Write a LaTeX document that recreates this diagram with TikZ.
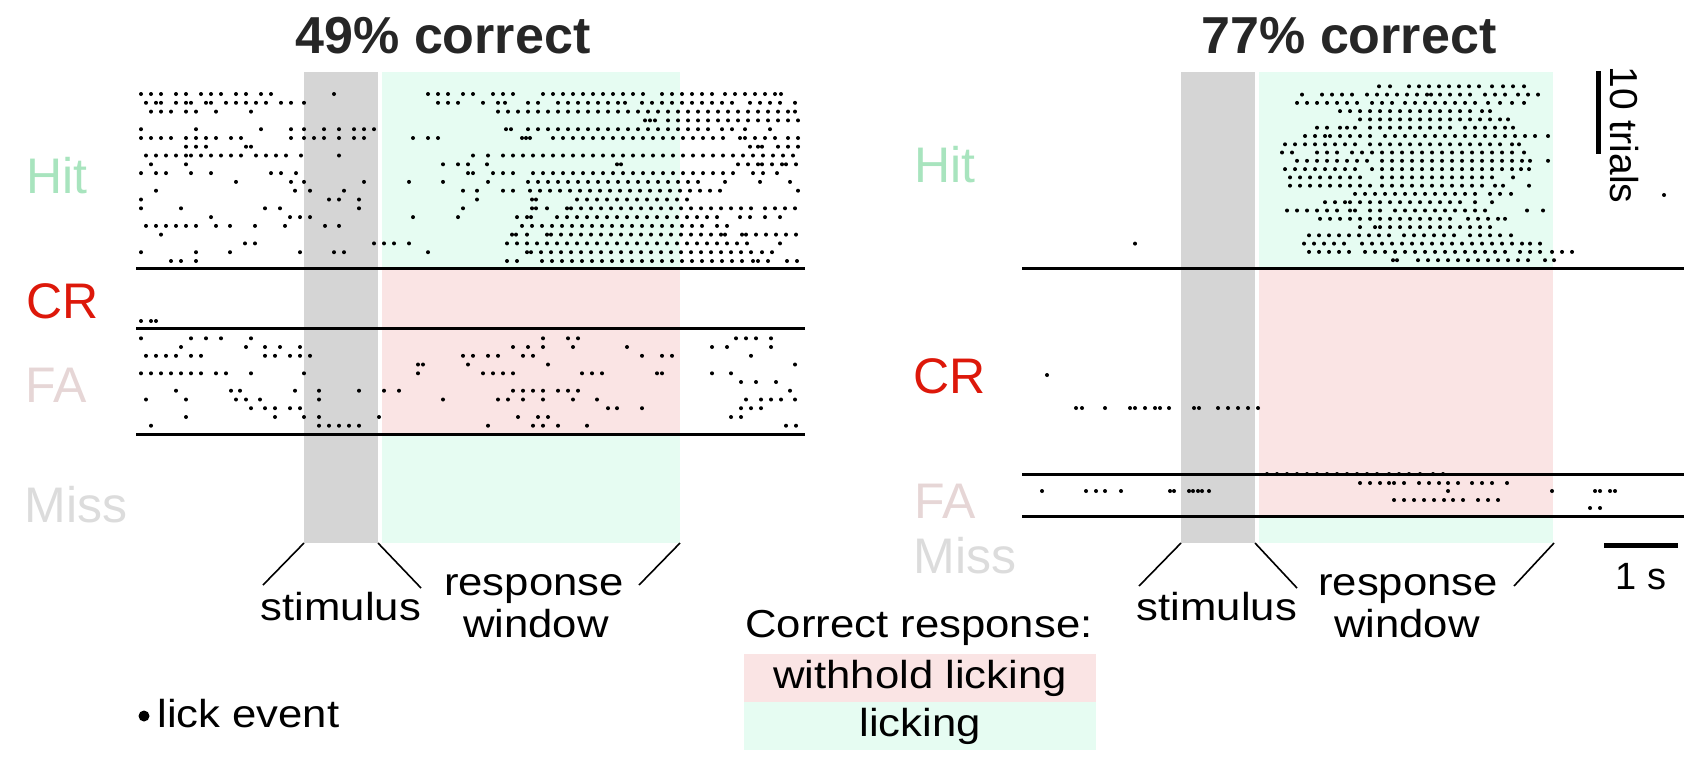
\documentclass[tikz,border=0pt]{standalone}
\usepackage{fontspec}
\setmainfont{Liberation Sans}
\newfontfamily\annfont{Liberation Sans}[FakeStretch=1.12]
\definecolor{stimgray}{RGB}{213,213,213}
\definecolor{lickgreen}{RGB}{230,252,242}
\definecolor{holdpink}{RGB}{250,228,228}
\definecolor{hitcol}{RGB}{168,228,190}
\definecolor{crcol}{RGB}{221,24,10}
\definecolor{facol}{RGB}{230,214,214}
\definecolor{misscol}{RGB}{220,220,220}
\newcommand\lickrow[2]{\foreach \x in {#2} \fill (\x,#1) circle[radius=1pt];}

\begin{document}
\begin{tikzpicture}[x=0.5pt,y=-0.5pt,font=\annfont\fontsize{19.5}{22}\selectfont]
% Styles for lines and texts
\tikzstyle{trial line}=[line width=1.5pt];
\tikzstyle{pointer}=[line width=0.8pt];
\tikzstyle{scale bar}=[line width=2.5pt];
\tikzstyle{caption}=[anchor=base,inner sep=0];
\tikzstyle{outcome}=[anchor=base west,inner sep=0,font=\rmfamily\fontsize{25}{30}\selectfont];
\tikzstyle{title}=[anchor=base,inner sep=0,text=black!85,font=\rmfamily\bfseries\fontsize{26}{30}\selectfont];
\useasboundingbox (0,0) rectangle (1684,778);
% Stimulus and response windows
\fill[stimgray] (304,72) rectangle (378,543);
\fill[lickgreen] (382,72) rectangle (680,543);
\fill[holdpink] (382,268.5) rectangle (680,434.5);
\fill[stimgray] (1181,72) rectangle (1255,543);
\fill[lickgreen] (1259,72) rectangle (1553,543);
\fill[holdpink] (1259,268.5) rectangle (1553,516);
% Titles
\node[title] (titleA) at (443,53) {49\% correct};
\node[title] (titleB) at (1349,53) {77\% correct};
% Trial outcomes
\node[outcome,text=hitcol] (hitA) at (26,193) {Hit};
\node[outcome,text=crcol] (crA) at (26,318) {CR};
\node[outcome,text=facol] (faA) at (25,402) {FA};
\node[outcome,text=misscol] (missA) at (24,522) {Miss};
\node[outcome,text=hitcol] (hitB) at (914,182) {Hit};
\node[outcome,text=crcol] (crB) at (913,393) {CR};
\node[outcome,text=facol] (faB) at (914,518) {FA};
\node[outcome,text=misscol] (missB) at (913,573) {Miss};
% Licks, left session: hit trials
\lickrow{94.0}{141,151,161,176,186,201,211,221,236,246,261,271,334,428,438,448,463,473,493,503,513,543,553,563,573,...,643,662,672,...,712,725,735,...,775,781}
\lickrow{102.8}{146,156,161,176,186,191,206,211,226,236,246,256,266,281,291,304,438,448,458,483,498,505,528,538,558,568,578,...,618,625,642,652,662,...,732,750,760,770,780,795}
\lickrow{111.6}{151,161,171,186,196,216,251,498,508,...,788,795}
\lickrow{120.4}{645,650,655,668,678,...,798}
\lickrow{129.2}{141,196,261,291,304,324,339,354,364,374,506,511,528,538,...,708,722,732,745,770}
\lickrow{138.0}{141,151,161,171,186,196,206,216,231,241,291,304,314,324,339,354,364,413,428,438,522,526,530,553,563,...,723,740,745,755,765,775,788,798}
\lickrow{146.7}{186,196,206,246,251,750,758,762,778,788,798}
\lickrow{155.5}{146,156,166,176,186,191,201,211,221,231,241,256,266,276,286,301,339,473,488,503,513,523,...,798}
\lickrow{164.3}{151,186,443,458,468,487,617,621,738,748,758,762,772,782,786,796}
\lickrow{173.1}{141,156,166,191,211,271,281,296,468,473,493,503,513,533,543,...,733,753,763,777}
\lickrow{181.9}{236,291,304,364,409,443,488,528,538,...,703,725,760,790}
\lickrow{190.7}{156,295,310,344,463,477,503,513,530,540,...,710,720,798}
\lickrow{199.5}{141,329,339,359,477,532,536,577,587,...,692}
\lickrow{208.3}{141,181,265,280,359,463,532,536,547,567,571,581,...,751,765,775,785,795}
\lickrow{217.1}{211,290,300,310,413,458,517,527,531,557,567,577,...,717,740,750,765,780}
\lickrow{225.9}{146,156,166,176,186,196,216,230,255,285,325,339,522,532,...,702,717,727}
\lickrow{234.6}{161,512,516,527,547,551,561,571,...,721,725,742,746,756,...,796}
\lickrow{243.4}{245,255,374,384,394,409,507,517,...,747,780}
\lickrow{252.2}{141,196,230,300,334,344,428,527,531,541,...,751,762,772}
\lickrow{261.0}{171,181,196,507,517,542,552,...,742,753,758,768,787,797}
% Licks, left session: correct rejections and false alarms
\lickrow{321}{141,151,156}
\lickrow{338.3}{141,191,206,221,251,543,568,578,736,746,756,771}
\lickrow{347.0}{181,246,265,280,300,513,528,543,573,627,712,727,771}
\lickrow{355.8}{146,156,166,176,191,201,265,275,290,300,310,463,473,488,498,523,533,642,662,672,751}
\lickrow{364.5}{418,423,468,548,795}
\lickrow{373.3}{141,151,161,171,181,191,201,216,226,251,304,418,483,493,503,513,582,592,602,657,662,712,731}
\lickrow{382.0}{741,756,776}
\lickrow{390.7}{176,231,240,295,319,359,384,399,513,523,533,543,558,568,578,790}
\lickrow{399.5}{146,186,236,246,260,319,443,498,508,523,543,573,597,746,761,771,781,795}
\lickrow{408.2}{251,265,275,290,300,608,617,642,741,751,761}
\lickrow{417.0}{186,275,304,319,379,518,538,548,731,741}
\lickrow{425.7}{151,319,329,339,349,359,488,533,543,558,587,786,796}
% Licks, right session: hit trials
\lickrow{86.3}{1379,1390,1409,1419,...,1479,1492,1503,1513,1524}
\lickrow{94.6}{1302,1322,1332,1342,1352,1367,1377,...,1427,1431,1440,1450,...,1470,1485,1495,1505,1518,1528,1538}
\lickrow{102.9}{1297,1307,...,1357,1372,1382,1392,1405,1415,...,1475,1488,1500,1512,1524}
\lickrow{111.1}{1340,1350,...,1470,1482,1490}
\lickrow{119.4}{1360,1370,...,1480,1490,1500,1508}
\lickrow{127.7}{1317,1327,1340,1347,1355,1370,1380,...,1450,1465,1475,1485,1495,1505,1513}
\lickrow{136.0}{1305,1315,1325,1330,1340,1350,1360,1370,1385,1395,...,1525,1535,1548}
\lickrow{144.3}{1285,1295,...,1355,1370,1380,...,1500,1512,1519}
\lickrow{152.5}{1282,1292,1317,1327,1337,1352,1362,...,1512,1524}
\lickrow{160.8}{1297,1307,...,1367,1382,1392,...,1522,1530,1548}
\lickrow{169.1}{1285,1295,...,1355,1372,1382,...,1512,1521,1529}
\lickrow{177.4}{1290,1300,...,1360,1382,1392,...,1492,1513}
\lickrow{185.7}{1290,1300,...,1370,1382,1392,...,1482,1495,1503,1529}
\lickrow{193.9}{1355,1365,...,1475,1490,1500,1511}
\lickrow{202.2}{1325,1335,1345,1350,1360,1370,...,1460,1475,1492}
\lickrow{210.5}{1287,1297,...,1337,1350,1355,1370,1380,1395,1405,...,1485,1527,1543}
\lickrow{218.8}{1320,1330,...,1450,1468,1478,1488,1498,1505}
\lickrow{227.1}{1360,1375,1380,1390,...,1490}
\lickrow{235.3}{1309,1319,...,1389,1404,1414,...,1454,1470,1480,1490,1500,1511}
\lickrow{243.6}{1135,1304,1314,...,1344,1362,1372,...,1522,1530,1540}
\lickrow{251.9}{1309,1319,...,1349,1365,1375,...,1505,1520,1530,1540,1552,1562,1572}
\lickrow{260.2}{1393,1397,1418,1428,...,1528,1545,1554}
\lickrow{195}{1664}
% Licks, right session: correct rejections and false alarms
\lickrow{375}{1047}
\lickrow{408}{1076,1082,1105,1130,1135,1145,1155,1160,1169,1194,1199,1218,1228,1238,1248,1258}
\lickrow{474}{1267,1277,...,1377,1389,1399,1409,1420,1433,1443}
\lickrow{483}{1360,1370,1380,1389,1394,1404,1419,1429,1439,1448,1458,1472,1482,1492,1507}
\lickrow{491}{1042,1086,1096,1105,1121,1170,1174,1189,1193,1198,1202,1209,1448,1552,1595,1600,1610,1615}
\lickrow{500}{1394,1404,...,1444,1453,1463,1478,1488,1498}
\lickrow{508}{1590,1600}
% Separators between trial types
\draw[trial line] (136,268.5) -- (805,268.5);
\draw[trial line] (136,328.6) -- (805,328.6);
\draw[trial line] (136,434.5) -- (805,434.5);
\draw[trial line] (1022,268.6) -- (1684,268.6);
\draw[trial line] (1022,474.5) -- (1684,474.5);
\draw[trial line] (1022,516) -- (1684,516);
% Window captions
\coordinate (stimA-l) at (304,543);
\coordinate (stimA-r) at (378,543);
\coordinate (respA-r) at (680,543);
\coordinate (stimA-end) at (263,585);
\coordinate (respA-start) at (421,588);
\coordinate (respA-end) at (639,585);
\draw[pointer] (stimA-l) -- (stimA-end);
\draw[pointer] (stimA-r) -- (respA-start);
\draw[pointer] (respA-r) -- (respA-end);
\node[caption] (stimA) at (341,620) {stimulus};
\node[caption] (respA) at (534,595) {response};
\node[caption] (winA) at (536,637) {window};
\coordinate (stimB-l) at (1181,543);
\coordinate (stimB-r) at (1255,543);
\coordinate (respB-r) at (1554,543);
\coordinate (stimB-end) at (1139,586);
\coordinate (respB-start) at (1297,588);
\coordinate (respB-end) at (1514,586);
\draw[pointer] (stimB-l) -- (stimB-end);
\draw[pointer] (stimB-r) -- (respB-start);
\draw[pointer] (respB-r) -- (respB-end);
\node[caption] (stimB) at (1217,620) {stimulus};
\node[caption] (respB) at (1408,595) {response};
\node[caption] (winB) at (1407,637) {window};
% Scale bars
\coordinate (trials-top) at (1598,71);
\coordinate (trials-bot) at (1598,154);
\draw[scale bar] (trials-top) -- (trials-bot);
\node[rotate=-90,inner sep=0,font=\rmfamily\fontsize{19.5}{22}\selectfont] (trials) at (1624,135) {10 trials};
\coordinate (sec-l) at (1604,545);
\coordinate (sec-r) at (1678,545);
\draw[scale bar] (sec-l) -- (sec-r);
\node[caption,font=\rmfamily\fontsize{19}{22}\selectfont] (sec) at (1641,589) {1 s};
% Legend
\node[caption] (corr) at (919,637) {Correct response:};
\node[fill=holdpink,minimum width=176pt,minimum height=24pt,inner sep=0] (hold) at (920,678) {withhold licking};
\node[fill=lickgreen,minimum width=176pt,minimum height=24pt,inner sep=0] (lick) at (920,726) {licking};
\node[circle,fill,inner sep=0,minimum size=5.5pt] (lickdot) at (144,716) {};
\node[anchor=base west,inner sep=0] (lickev) at (157,727) {lick event};
\end{tikzpicture}
\end{document}
